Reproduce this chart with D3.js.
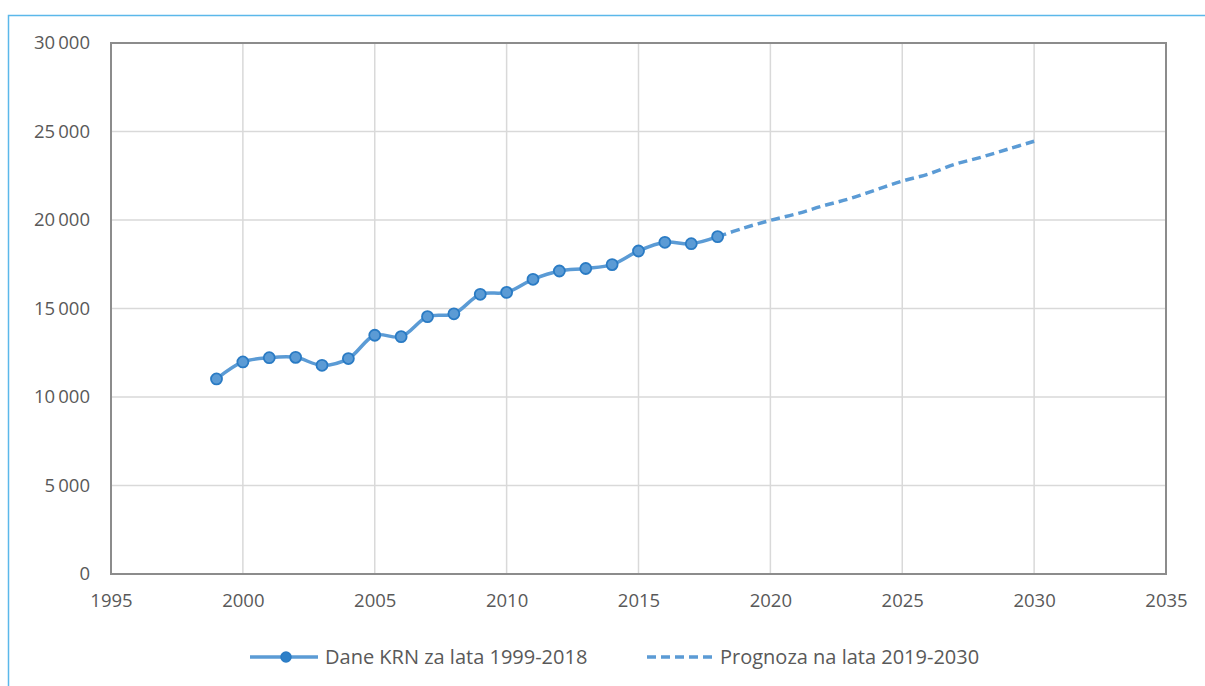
<!DOCTYPE html>
<html lang="pl">
<meta charset="utf-8">
<head>
    <script src="https://d3js.org/d3.v7.min.js"></script>
</head>
<body style="margin:0;background:#fff">
<div id="chart"></div>

<style>
	svg text {
	fill: #595959;
	font-family: "Open Sans", sans-serif;
	}
</style>

<script>
// dane KRN 1999-2018
var years = [1999, 2000, 2001, 2002, 2003, 2004, 2005, 2006, 2007, 2008, 2009,
             2010, 2011, 2012, 2013, 2014, 2015, 2016, 2017, 2018];
var values = [11020, 11980, 12220, 12240, 11790, 12170, 13490, 13410, 14540, 14700, 15800,
              15910, 16650, 17120, 17260, 17480, 18250, 18740, 18660, 19060];
// prognoza 2019-2030 (starts from the 2018 point)
var fYears = [2018, 2019, 2020, 2021, 2022, 2023, 2024, 2025, 2026, 2027, 2028, 2029, 2030];
var fValues = [19060, 19550, 19980, 20350, 20800, 21200, 21700, 22200, 22600, 23150, 23550, 24000, 24450];
var xTicks = [1995, 2000, 2005, 2010, 2015, 2020, 2025, 2030, 2035];
var yTicks = [0, 5000, 10000, 15000, 20000, 25000, 30000];
var legendLabels = ["Dane KRN za lata 1999-2018", "Prognoza na lata 2019-2030"];

var width = 1205, height = 686;
var mLeft = 111, mRight = 1166, mTop = 43, mBottom = 574;
var blue = "#5b9bd5";

var svg = d3.select("#chart").append("svg")
	.attr("width", width)
	.attr("height", height);

// outer chart frame
svg.append("path")
	.attr("d", "M8.5," + height + "V15.5H" + width)
	.attr("fill", "none")
	.attr("stroke", "#5bb8ea")
	.attr("stroke-width", 1.5);

var x = d3.scaleLinear().domain([1995, 2035]).range([mLeft, mRight]);
var y = d3.scaleLinear().domain([0, 30000]).range([mBottom, mTop]);

// grid
svg.append("g").selectAll("line")
	.data(xTicks.slice(1, -1))
	.enter().append("line")
	.attr("x1", d => x(d)).attr("x2", d => x(d))
	.attr("y1", mTop).attr("y2", mBottom)
	.attr("stroke", "#d9d9d9").attr("stroke-width", 1.5);
svg.append("g").selectAll("line")
	.data(yTicks.slice(1, -1))
	.enter().append("line")
	.attr("x1", mLeft).attr("x2", mRight)
	.attr("y1", d => y(d)).attr("y2", d => y(d))
	.attr("stroke", "#d9d9d9").attr("stroke-width", 1.5);

// plot border
svg.append("rect")
	.attr("x", mLeft).attr("y", mTop)
	.attr("width", mRight - mLeft).attr("height", mBottom - mTop)
	.attr("fill", "none")
	.attr("stroke", "#8c8c8c")
	.attr("stroke-width", 2);

var fmt = function(d) { return d3.format(",")(d).replace(",", "\u2009"); };

// axes (labels only)
var xAxis = svg.append("g")
	.attr("transform", "translate(0," + mBottom + ")")
	.call(d3.axisBottom(x).tickValues(xTicks).tickFormat(d3.format("d")).tickSize(0).tickPadding(20));
var yAxis = svg.append("g")
	.attr("transform", "translate(" + mLeft + ",0)")
	.call(d3.axisLeft(y).tickValues(yTicks).tickFormat(fmt).tickSize(0).tickPadding(21));
xAxis.select(".domain").remove();
yAxis.select(".domain").remove();
svg.selectAll(".tick text")
	.attr("fill", "#606060")
	.style("font-family", '"Open Sans", sans-serif')
	.style("font-size", "18.5px");

var line = d3.line()
	.x(function(d) { return x(d[0]); })
	.y(function(d) { return y(d[1]); })
	.curve(d3.curveCatmullRom.alpha(0.5));

// forecast line (dashed)
svg.append("path")
	.datum(d3.zip(fYears, fValues))
	.attr("d", line)
	.attr("fill", "none")
	.attr("stroke", blue)
	.attr("stroke-width", 3.5)
	.attr("stroke-dasharray", "9,5");

// data line
svg.append("path")
	.datum(d3.zip(years, values))
	.attr("d", line)
	.attr("fill", "none")
	.attr("stroke", blue)
	.attr("stroke-width", 3.5);

svg.append("g").selectAll("circle")
	.data(d3.zip(years, values))
	.enter().append("circle")
	.attr("cx", d => x(d[0]))
	.attr("cy", d => y(d[1]))
	.attr("r", 5.5)
	.attr("fill", blue)
	.attr("stroke", "#2a7bc4")
	.attr("stroke-width", 1.8);

// legend
var ly = 657;
var lg = svg.append("g").style("font-size", "20px");
lg.append("line")
	.attr("x1", 250).attr("x2", 318).attr("y1", ly).attr("y2", ly)
	.attr("stroke", blue).attr("stroke-width", 3.5);
lg.append("circle")
	.attr("cx", 286).attr("cy", ly).attr("r", 5)
	.attr("fill", "#2e80c8").attr("stroke", "#2a7bc4").attr("stroke-width", 1.5);
lg.append("text").attr("x", 325).attr("y", ly).attr("dy", ".35em").text(legendLabels[0]);
lg.append("line")
	.attr("x1", 647).attr("x2", 712).attr("y1", ly).attr("y2", ly)
	.attr("stroke", blue).attr("stroke-width", 3.5)
	.attr("stroke-dasharray", "9,5");
lg.append("text").attr("x", 720).attr("y", ly).attr("dy", ".35em").text(legendLabels[1]);
</script>
</html>
